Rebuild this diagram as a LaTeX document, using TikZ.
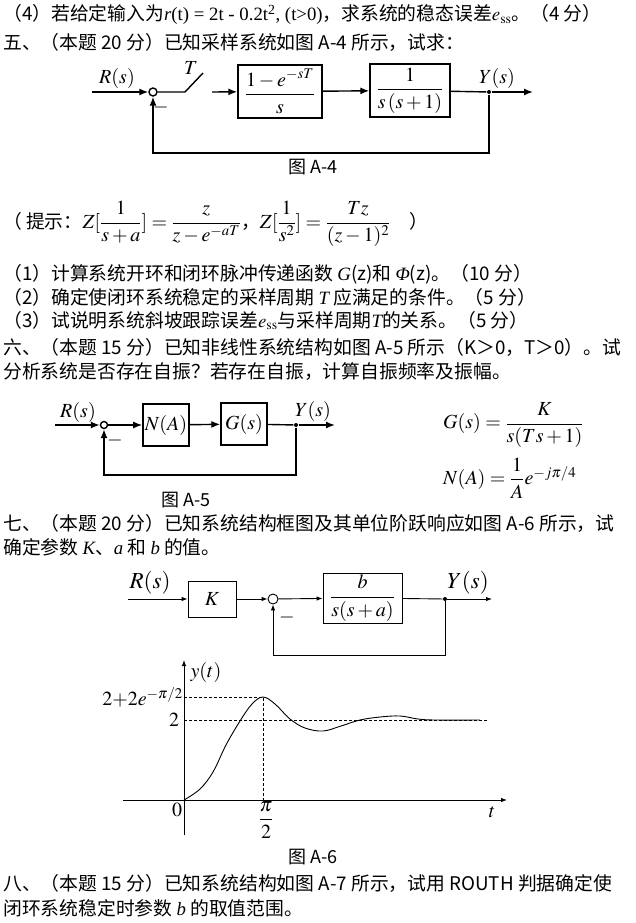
\documentclass[tikz,border=0pt]{standalone}
\usepackage{mathptmx}
\usepackage{amsmath}
\usepackage{fontspec}
\setmainfont{Liberation Serif}
\newfontfamily\cjk{Noto Sans CJK SC}
\newcommand\txtit[1]{{\rmfamily\itshape #1}}
\usetikzlibrary{arrows.meta,positioning,calc}

\tikzset{
 txt/.style={anchor=base west, inner sep=0pt, font=\cjk\fontsize{18.8}{22}\selectfont},
 figcap/.style={inner sep=0pt, font=\cjk\fontsize{18}{20}\selectfont},
 lbl/.style={inner sep=0pt, font=\fontsize{20}{22}\selectfont},
 blk/.style={draw, inner sep=2pt, font=\fontsize{20}{22}\selectfont},
 sumpt/.style={draw, circle, inner sep=0pt, minimum size=8pt},
 dotpt/.style={circle, fill, inner sep=0pt, minimum size=4pt},
 guide/.style={thin, dash pattern=on 3pt off 2pt}
}

\begin{document}
\begin{tikzpicture}[x=1pt, y=-1pt, >={Latex[length=9pt,width=7pt]}]
\useasboundingbox (0,0) rectangle (635,923);
\fill[white] (0,0) rectangle (635,923);

% question text
\node[txt] (q4) at (3,21) {（4）若给定输入为{\rmfamily\textit{r}(t) = 2t - 0.2t\textsuperscript{2}, (t>0)}，求系统的稳态误差$e_{\mathrm{ss}}$。（4 分）};
\node[txt] (q5) at (3,50) {五、（本题 20 分）已知采样系统如图 A-4 所示，试求：};

% figure A-4
\begin{scope}[line width=1.4pt]
\coordinate (r4) at (92,92);
\node[sumpt] (s4) at (153,92) {};
\node[lbl] (r4lbl) at (117,79) {$R(s)$};
\coordinate (sw4a) at (185,92);
\coordinate (sw4b) at (203,73);
\coordinate (sw4c) at (212,92);
\node[lbl] (t4) at (191,68) {$T$};
\node[blk, minimum width=84pt, minimum height=53pt] (zoh) at (280,91.5) {$\dfrac{1-e^{-sT}}{s}$};
\node[blk, minimum width=80pt, minimum height=53pt] (plant4) at (410,90.5) {$\dfrac{1}{s\,(s+1)}$};
\node[dotpt] (b4) at (489,92) {};
\coordinate (y4) at (533,92);
\node[lbl] (y4lbl) at (497,79) {$Y(s)$};
\coordinate (fb4) at (153,153);
\draw[->] (r4) -- (s4);
\draw (s4) -- (sw4a) -- (sw4b);
\draw[->] (sw4c) -- (zoh);
\draw[->] (zoh) -- (plant4);
\draw (plant4) -- (b4);
\draw[->] (b4) -- (y4);
\draw[->] (b4) |- (fb4) -- (s4);
\node[lbl] (m4) at (161,108) {$-$};
\end{scope}
\node[figcap] (c4) at (313,167) {图 A-4};

\node[txt] (hint) at (3,228) {（ 提示：{\fontsize{20}{22}\selectfont$Z[\dfrac{1}{s+a}]=\dfrac{z}{z-e^{-aT}}$}，{\fontsize{20}{22}\selectfont$Z[\dfrac{1}{s^{2}}]=\dfrac{Tz}{(z-1)^{2}}$}\quad ）};
\node[txt] (q51) at (3,280) {（1）计算系统开环和闭环脉冲传递函数 \txtit{G}(z)和 \txtit{Φ}(z)。（10 分）};
\node[txt] (q52) at (3,304) {（2）确定使闭环系统稳定的采样周期 \txtit{T} 应满足的条件。（5 分）};
\node[txt] (q53) at (3,327) {（3）试说明系统斜坡跟踪误差$e_{\mathrm{ss}}$与采样周期\txtit{T}的关系。（5 分）};
\node[txt] (q6a) at (3,354) {六、（本题 15 分）已知非线性系统结构如图 A-5 所示（K＞0，T＞0）。试};
\node[txt] (q6b) at (3,378) {分析系统是否存在自振？若存在自振，计算自振频率及振幅。};

% figure A-5
\begin{scope}[line width=1.4pt]
\coordinate (r5) at (55,425);
\node[sumpt, minimum size=7pt] (s5) at (104,425) {};
\node[lbl] (r5lbl) at (78,412) {$R(s)$};
\node[blk, minimum width=46pt, minimum height=42pt] (na) at (166,425) {$N(A)$};
\node[blk, minimum width=46pt, minimum height=42pt] (gs) at (244,424) {$G(s)$};
\node[dotpt] (b5) at (296,425) {};
\coordinate (y5) at (335,425);
\node[lbl] (y5lbl) at (313,411) {$Y(s)$};
\coordinate (fb5) at (104,475);
\draw[->] (r5) -- (s5);
\draw[->] (s5) -- (na);
\draw[->] (na) -- (gs);
\draw (gs) -- (b5);
\draw[->] (b5) -- (y5);
\draw[->] (b5) |- (fb5) -- (s5);
\node[lbl] (m5) at (115,440) {$-$};
\end{scope}
\node[figcap] (c5) at (186,500) {图 A-5};
\node[lbl, anchor=west] (gdef) at (443,425) {$G(s)=\dfrac{K}{s(Ts+1)}$};
\node[lbl, anchor=west] (ndef) at (443,478) {$N(A)=\dfrac{1}{A}e^{-j\pi/4}$};

\node[txt] (q7a) at (3,530) {七、（本题 20 分）已知系统结构框图及其单位阶跃响应如图 A-6 所示，试};
\node[txt] (q7b) at (3,554) {确定参数 \txtit{K}、\txtit{a} 和 \txtit{b} 的值。};

% figure A-6, block diagram
\begin{scope}[line width=0.9pt, >={Latex[length=6pt,width=4.5pt]}]
\coordinate (r6) at (128,599);
\node[lbl, font=\fontsize{23}{25}\selectfont] (r6lbl) at (150,583) {$R(s)$};
\node[blk, minimum width=48pt, minimum height=36pt] (kb) at (212,599) {$K$};
\node[sumpt, minimum size=10pt] (s6) at (273,599) {};
\node[blk, minimum width=79pt, minimum height=50pt] (plant6) at (362.5,598) {$\dfrac{b}{s(s+a)}$};
\node[dotpt] (b6) at (445,599) {};
\coordinate (y6) at (492,599);
\node[lbl, font=\fontsize{23}{25}\selectfont] (y6lbl) at (468,583) {$Y(s)$};
\coordinate (fb6) at (273,655);
\draw[->] (r6) -- (kb);
\draw[->] (kb) -- (s6);
\draw[->] (s6) -- (plant6);
\draw (plant6) -- (b6);
\draw[->] (b6) -- (y6);
\draw[->] (b6) |- (fb6) -- (s6);
\node[lbl] (m6) at (287,617) {$-$};
\end{scope}

% figure A-6, step response
\begin{scope}[line width=0.9pt, >={Latex[length=6pt,width=4.5pt]}]
\coordinate (o) at (184,800);
\coordinate (ybot) at (184,835);
\coordinate (ytop) at (184,660);
\coordinate (xl) at (123,800);
\coordinate (xr) at (507,800);
\coordinate (pk) at (263,697);
\coordinate (pkaxis) at (184,697);
\coordinate (pkfoot) at (263,800);
\coordinate (ssl) at (184,720);
\coordinate (ssr) at (487,720);
\draw[->] (ybot) -- (ytop);
\draw[->] (xl) -- (xr);
\draw[guide, line width=0.6pt] (pkaxis) -- (pk) -- (pkfoot);
\draw[guide, line width=0.6pt] (ssl) -- (ssr);
\draw[smooth, tension=0.6] plot coordinates {(184,800) (200,789) (213,772) (226,745) (240,721) (252,704) (263,697) (275,704) (290,719) (305,728) (323,731) (341,726) (360,720) (380,717) (400,716) (418,719) (435,720) (480,720)};
\end{scope}
\node[lbl] (ytl) at (206,672) {$y(t)$};
\node[lbl] (zero) at (177,810) {$0$};
\node[lbl, anchor=east] (pklbl) at (183,697) {$2{+}2e^{-\pi/2}$};
\node[lbl] (two) at (174,720) {$2$};
\node[lbl] (pihalf) at (266,820) {$\dfrac{\pi}{2}$};
\node[lbl] (tl) at (492,812) {$t$};
\node[figcap] (c6) at (313,857) {图 A-6};

\node[txt] (q8a) at (3,890) {八、（本题 15 分）已知系统结构如图 A-7 所示，试用 ROUTH 判据确定使};
\node[txt] (q8b) at (3,915) {闭环系统稳定时参数 \txtit{b} 的取值范围。};
\end{tikzpicture}
\end{document}
